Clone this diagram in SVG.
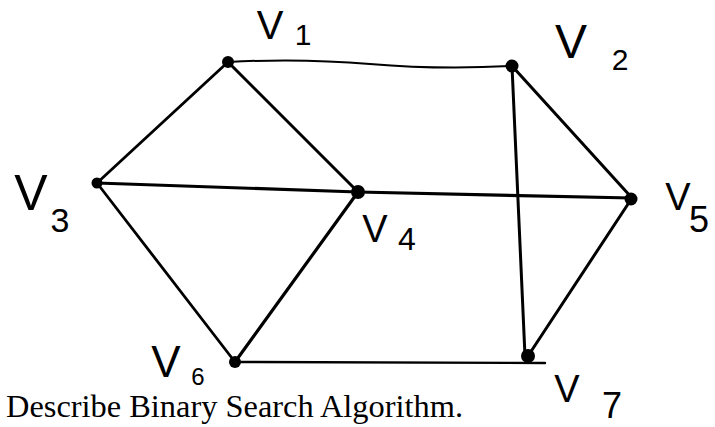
<svg xmlns="http://www.w3.org/2000/svg" width="715" height="427" viewBox="0 0 715 427">
<style>
.e{stroke:#000;stroke-linecap:round;fill:none}
.lbl{font-family:"Liberation Sans",Arial,sans-serif;fill:#000;text-anchor:middle}
.cap{font-family:"Liberation Serif","Times New Roman",serif;fill:#000;font-size:32px}
</style>
<rect width="715" height="427" fill="#fff"/>
<g id="edges">
<path class="e" stroke-width="2" d="M228,62 Q300,58 370,64 T512,66"/>
<line class="e" stroke-width="2.8" x1="228" y1="62" x2="97" y2="183"/>
<line class="e" stroke-width="3" x1="228" y1="62" x2="358" y2="192"/>
<line class="e" stroke-width="3" x1="512" y1="66" x2="632" y2="198"/>
<line class="e" stroke-width="3" x1="512" y1="66" x2="525" y2="356"/>
<line class="e" stroke-width="3.2" x1="97" y1="183" x2="358" y2="192"/>
<line class="e" stroke-width="3.2" x1="358" y1="192" x2="632" y2="198"/>
<line class="e" stroke-width="2.8" x1="97" y1="183" x2="235" y2="362"/>
<line class="e" stroke-width="3.2" x1="358" y1="192" x2="235" y2="362"/>
<line class="e" stroke-width="2.4" x1="235" y1="362" x2="545" y2="363"/>
<line class="e" stroke-width="3" x1="632" y1="198" x2="528" y2="356"/>
</g>
<g id="v1"><circle cx="228" cy="62" r="6"/><text class="lbl" x="270" y="39" font-size="40">V</text><text class="lbl" x="303" y="45" font-size="30">1</text></g>
<g id="v2"><circle cx="512" cy="66" r="6.5"/><text class="lbl" x="571" y="58" font-size="48">V</text><text class="lbl" x="620" y="70" font-size="30">2</text></g>
<g id="v3"><circle cx="97" cy="183" r="5.5"/><text class="lbl" x="31" y="210" font-size="50">V</text><text class="lbl" x="60" y="232" font-size="34">3</text></g>
<g id="v4"><circle cx="358" cy="192" r="7"/><text class="lbl" x="375" y="242" font-size="38">V</text><text class="lbl" x="407" y="250" font-size="32">4</text></g>
<g id="v5"><circle cx="631" cy="199" r="6.5"/><text class="lbl" x="678" y="210" font-size="38">V</text><text class="lbl" x="699" y="232" font-size="36">5</text></g>
<g id="v6"><circle cx="235" cy="362" r="6"/><text class="lbl" x="166" y="377" font-size="44">V</text><text class="lbl" x="198" y="385" font-size="24">6</text></g>
<g id="v7"><circle cx="528" cy="356" r="7"/><text class="lbl" x="567" y="402" font-size="38">V</text><text class="lbl" x="612" y="418" font-size="36">7</text></g>
<text class="cap" x="6" y="417" textLength="457" lengthAdjust="spacingAndGlyphs">Describe Binary Search Algorithm.</text>
</svg>
